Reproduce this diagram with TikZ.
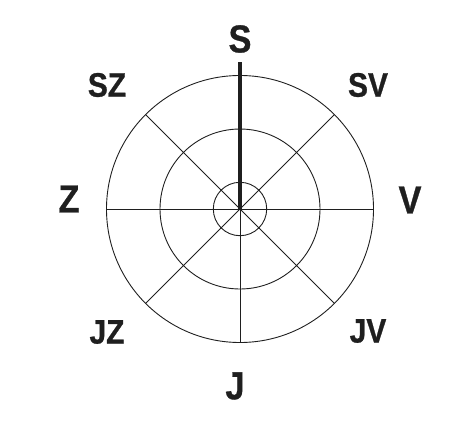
\documentclass[tikz,border=0pt]{standalone}
\usepackage{fontspec}
\setmainfont{Liberation Sans}[FakeStretch=0.88, BoldFeatures={FakeBold=0.8}]
\begin{document}
\begin{tikzpicture}[x=1pt,y=-1pt,
  thin line/.style={line width=0.9pt, draw=black!88},
  big/.style={font=\fontsize{39}{41}\selectfont\bfseries, text=black!88, inner sep=0pt},
  small/.style={font=\fontsize{34}{36}\selectfont\bfseries, text=black!88, inner sep=0pt}]
\useasboundingbox (0,0) rectangle (476,431);
\coordinate (c) at (240,209);
\draw[thin line] (c) circle[radius=133.5];
\draw[thin line] (c) circle[radius=80];
\draw[thin line] (c) circle[radius=26.7];
\foreach \a in {0,45,...,315}
  \draw[thin line] (c) -- ++(\a:133.5);
\coordinate (top) at (240,62);
\draw[line width=3.6pt, draw=black!88] (c) -- (top);
\node[big] (S) at (240,39) {S};
\node[big] (Z) at (69,199) {Z};
\node[big] (V) at (410,200) {V};
\node[big] (J) at (235,386) {J};
\node[small] (SZ) at (107,85) {SZ};
\node[small] (SV) at (368,85) {SV};
\node[small] (JZ) at (107,332) {JZ};
\node[small] (JV) at (368,331) {JV};
\end{tikzpicture}
\end{document}
